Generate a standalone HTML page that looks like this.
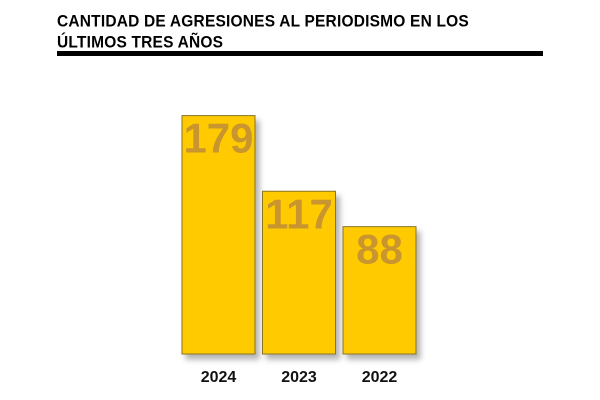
<!DOCTYPE html>
<html><head><meta charset="utf-8"><style>
body{margin:0;width:600px;height:400px;background:#fff;overflow:hidden;font-family:"Liberation Sans",sans-serif}
#title{position:absolute;left:57px;top:13px;font-weight:900;font-size:15.5px;line-height:20px;color:#000;letter-spacing:0.2px;transform:scaleY(1.05)}
#rule{position:absolute;left:57px;top:51px;width:486px;height:5px;background:#000}
</style></head><body>
<div id="title">CANTIDAD DE AGRESIONES AL PERIODISMO EN LOS<br>ÚLTIMOS TRES AÑOS</div>
<div id="rule"></div>
<svg id="chart" width="600" height="400" style="position:absolute;left:0;top:0">
<defs><filter id="sh" x="-20%" y="-10%" width="150%" height="130%"><feDropShadow dx="4" dy="5" stdDeviation="3" flood-color="#000" flood-opacity="0.3"/></filter></defs>
<g id="bars"></g>
</svg>
<script>
const categories=["2024","2023","2022"];
const values=[179,117,88];
const baseline=354, barW=73, x0=182, step=80.5;
function yScale(v){return baseline-(20+1.22*v);}
function xScale(i){return x0+i*step;}
const g=document.getElementById('bars');
const NS="http://www.w3.org/2000/svg";
values.forEach((v,i)=>{
  const x=xScale(i), y=yScale(v);
  const r=document.createElementNS(NS,'rect');
  
  
  r.setAttribute('x',x);r.setAttribute('y',y);r.setAttribute('width',barW);r.setAttribute('height',baseline-y);
  r.setAttribute('fill','#ffcb05');r.setAttribute('stroke','#8a7420');r.setAttribute('stroke-width','1');
  r.setAttribute('filter','url(#sh)');
  g.appendChild(r);
  const t=document.createElementNS(NS,'text');
  
  
  t.setAttribute('x',x+barW/2);t.setAttribute('y',y+37);
  t.setAttribute('text-anchor','middle');
  t.setAttribute('font-size','42');t.setAttribute('font-weight','bold');
  t.setAttribute('font-family','Liberation Sans, sans-serif');
  t.setAttribute('fill','#c9952e');
  t.textContent=v;
  g.appendChild(t);
  const c=document.createElementNS(NS,'text');
  
  
  c.setAttribute('x',x+barW/2);c.setAttribute('y',382);
  c.setAttribute('text-anchor','middle');
  c.setAttribute('font-size','16');c.setAttribute('font-weight','bold');
  c.setAttribute('font-family','Liberation Sans, sans-serif');
  c.setAttribute('fill','#111');
  c.textContent=categories[i];
  g.appendChild(c);
});
</script>
</body></html>
